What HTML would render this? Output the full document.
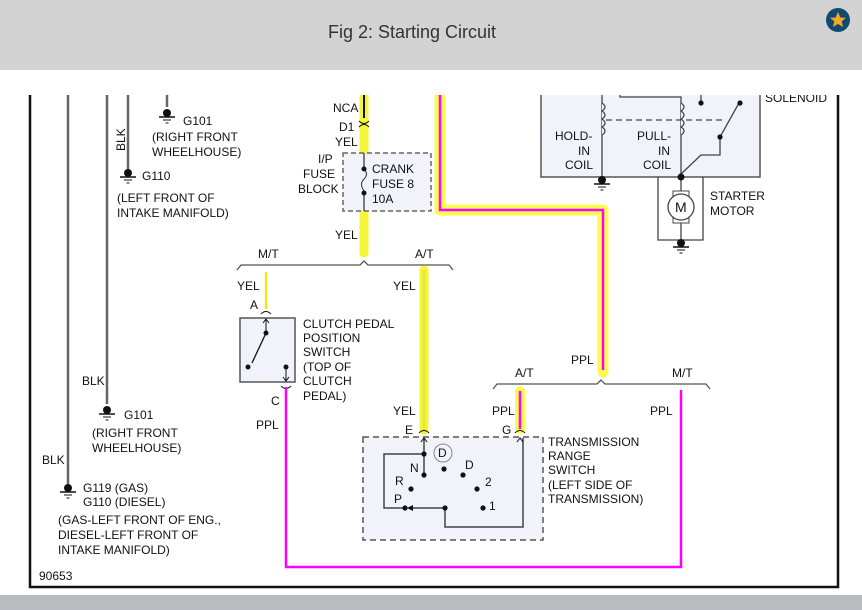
<!DOCTYPE html>
<html><head><meta charset="utf-8"><style>
html,body{margin:0;padding:0;width:862px;height:610px;overflow:hidden;background:#fff}
svg{display:block}
text{font-family:"Liberation Sans",sans-serif;font-size:12px;fill:#111}
</style></head><body>
<svg width="862" height="610" viewBox="0 0 862 610" xmlns="http://www.w3.org/2000/svg">
<defs>
<g id="gnd"><circle cx="0" cy="0" r="4" fill="#111"/><line x1="-8" y1="4" x2="8" y2="4" stroke="#111" stroke-width="1.5"/><line x1="-4" y1="7" x2="4" y2="7" stroke="#111"/><line x1="-1.5" y1="10" x2="1.5" y2="10" stroke="#111"/></g>
<clipPath id="cp"><rect x="0" y="95" width="862" height="500"/></clipPath>
</defs>
<rect x="0" y="0" width="862" height="70" fill="#d3d3d3"/>
<text x="412" y="38" text-anchor="middle" style="font-size:18px;fill:#333">Fig 2: Starting Circuit</text>
<circle cx="838" cy="20" r="12" fill="#0e4a72"/>
<polygon points="838,12 840.4,17.5 846,17.8 841.7,21.4 843.1,27 838,24 832.9,27 834.3,21.4 830,17.8 835.6,17.5" fill="#f5a623"/>
<rect x="0" y="595" width="862" height="15" fill="#b8bcc0"/>
<g clip-path="url(#cp)">
<!-- frame -->
<polyline points="30,90 30,587 838,587 838,90" fill="none" stroke="#111" stroke-width="2.5"/>
<!-- ground wires -->
<g stroke="#666" stroke-width="2.5" fill="none">
<line x1="68" y1="90" x2="68" y2="484"/>
<line x1="107" y1="90" x2="107" y2="404"/>
<line x1="128" y1="90" x2="128" y2="169"/>
<line x1="167" y1="90" x2="167" y2="107"/>
</g>
<use href="#gnd" x="68" y="488"/><use href="#gnd" x="107" y="410"/><use href="#gnd" x="128" y="173"/><use href="#gnd" x="167" y="113"/>
<text x="42" y="464">BLK</text>
<text x="83" y="492">G119 (GAS)</text><text x="83" y="506">G110 (DIESEL)</text>
<text x="58" y="524">(GAS-LEFT FRONT OF ENG.,</text><text x="58" y="539">DIESEL-LEFT FRONT OF</text><text x="58" y="554">INTAKE MANIFOLD)</text>
<text x="39" y="580">90653</text>
<text x="82" y="385">BLK</text>
<text x="124" y="419">G101</text><text x="92" y="437">(RIGHT FRONT</text><text x="92" y="452">WHEELHOUSE)</text>
<text x="125" y="151" transform="rotate(-90 125 151)">BLK</text>
<text x="142" y="180">G110</text><text x="117" y="202">(LEFT FRONT OF</text><text x="117" y="217">INTAKE MANIFOLD)</text>
<text x="183" y="125">G101</text><text x="152" y="141">(RIGHT FRONT</text><text x="152" y="156">WHEELHOUSE)</text>
<!-- main yellow feed -->
<line x1="364" y1="90" x2="364" y2="253" stroke="#f5f53a" stroke-width="9" stroke-linecap="round"/>
<line x1="364" y1="90" x2="364" y2="118" stroke="#111" stroke-width="2"/>
<path d="M359,121 q5,5 10,0 M359,127 q5,-5 10,0" stroke="#111" fill="none"/>
<text x="333" y="112">NCA</text><text x="339" y="131">D1</text><text x="335" y="146">YEL</text>
<rect x="343" y="153" width="88" height="58" fill="#f2f2fb" stroke="#666" stroke-width="1.5" stroke-dasharray="5,3"/>
<line x1="364" y1="153" x2="364" y2="167" stroke="#555" stroke-width="1.5"/><line x1="364" y1="194" x2="364" y2="211" stroke="#555" stroke-width="1.5"/>
<path d="M364,169 q5,5 0,10 q-5,5 0,12" stroke="#333" fill="none"/>
<circle cx="364" cy="169" r="2.5" fill="#111"/><circle cx="364" cy="193" r="2.5" fill="#111"/>
<text x="318" y="163">I/P</text><text x="303" y="178">FUSE</text><text x="298" y="193">BLOCK</text>
<text x="372" y="173">CRANK</text><text x="372" y="188">FUSE 8</text><text x="372" y="203">10A</text>
<text x="335" y="239">YEL</text>
<!-- bracket 1 -->
<polyline points="237,270 241,265 360,265 364,261 368,265 449,265 453,270" fill="none" stroke="#555" stroke-width="1.3"/>
<text x="258" y="258">M/T</text><text x="415" y="258">A/T</text>
<!-- clutch -->
<line x1="266" y1="272" x2="266" y2="309" stroke="#e8e820" stroke-width="2.5"/>
<text x="237" y="290">YEL</text><text x="250" y="309">A</text>
<path d="M261,314 q5,-5 10,0" stroke="#111" fill="none"/>
<rect x="240" y="318" width="55" height="64" fill="#f2f2fb" stroke="#555" stroke-width="1.5"/>
<line x1="266" y1="320" x2="266" y2="333" stroke="#111"/><path d="M263,323 l3,-4 l3,4" fill="none" stroke="#111"/>
<circle cx="266" cy="333" r="2.5" fill="#111"/><line x1="266" y1="333" x2="252" y2="363" stroke="#111" stroke-width="1.3"/><circle cx="248" cy="367" r="2.5" fill="#111"/>
<circle cx="286" cy="367" r="2.5" fill="#111"/><line x1="286" y1="367" x2="286" y2="381" stroke="#111"/><path d="M283,377 l3,4 l3,-4" fill="none" stroke="#111"/>
<path d="M281,386 q5,5 10,0" stroke="#111" fill="none"/>
<text x="303" y="328">CLUTCH PEDAL</text><text x="303" y="342">POSITION</text><text x="303" y="356">SWITCH</text><text x="303" y="371">(TOP OF</text><text x="303" y="385">CLUTCH</text><text x="303" y="400">PEDAL)</text>
<text x="271" y="405">C</text><text x="256" y="429">PPL</text>
<!-- A/T yellow -->
<line x1="424" y1="270" x2="424" y2="430" stroke="#f5f53a" stroke-width="9" stroke-linecap="round"/>
<line x1="424" y1="270" x2="424" y2="430" stroke="#e8e838" stroke-width="3"/>
<text x="393" y="290">YEL</text><text x="393" y="415">YEL</text><text x="405" y="434">E</text>
<!-- PPL big wire -->
<polyline points="440,90 440,210 603,210 603,372" fill="none" stroke="#fbfb50" stroke-width="11" stroke-linejoin="round" stroke-linecap="round"/>
<polyline points="440,90 440,210 603,210 603,370" fill="none" stroke="#ff00ff" stroke-width="2.5"/>
<text x="571" y="364">PPL</text>
<polyline points="493,389 497,384 597,384 601,380 605,384 706,384 710,389" fill="none" stroke="#555" stroke-width="1.3"/>
<text x="515" y="377">A/T</text><text x="672" y="377">M/T</text>
<line x1="520" y1="391" x2="520" y2="429" stroke="#fbfb50" stroke-width="10" stroke-linecap="round"/>
<line x1="520" y1="391" x2="520" y2="429" stroke="#ff00ff" stroke-width="2.5"/>
<text x="492" y="415">PPL</text><text x="502" y="434">G</text>
<polyline points="681,390 681,567 286,567 286,387" fill="none" stroke="#ff00ff" stroke-width="2.5"/>
<text x="650" y="415">PPL</text>
<!-- trans range switch -->
<path d="M419,433 q5,-5 10,0 M515,433 q5,-5 10,0" stroke="#111" fill="none"/>
<rect x="363" y="437" width="180" height="103" fill="#f2f2fb" stroke="#555" stroke-width="1.5" stroke-dasharray="6,4"/>
<g stroke="#444" stroke-width="1.5" fill="none">
<polyline points="424,438 424,454 384,454 384,508 405,508"/>
<line x1="424" y1="454" x2="424" y2="475"/>
<polyline points="445,508 413,508"/>
<polyline points="445,508 445,527 523,527 523,438"/>
</g>
<path d="M421,442 l3,-4 l3,4 M517,442 l3,-4 l3,4" stroke="#111" fill="none"/>
<polygon points="407,508 413,505 413,511" fill="#111"/>
<circle cx="443" cy="453" r="9" fill="none" stroke="#888"/><text x="438" y="457">D</text>
<g fill="#111"><circle cx="424" cy="454" r="2.6"/><circle cx="424" cy="475" r="2.6"/><circle cx="444" cy="469" r="2.6"/><circle cx="463" cy="475" r="2.6"/><circle cx="411" cy="489" r="2.6"/><circle cx="477" cy="489" r="2.6"/><circle cx="405" cy="508" r="2.6"/><circle cx="445" cy="508" r="2.6"/><circle cx="483" cy="508" r="2.6"/></g>
<text x="410" y="472">N</text><text x="465" y="469">D</text><text x="395" y="485">R</text><text x="485" y="486">2</text><text x="394" y="503">P</text><text x="489" y="510">1</text>
<text x="548" y="446">TRANSMISSION</text><text x="548" y="460">RANGE</text><text x="548" y="474">SWITCH</text><text x="548" y="489">(LEFT SIDE OF</text><text x="548" y="503">TRANSMISSION)</text>
<!-- solenoid -->
<rect x="541" y="80" width="219" height="97" fill="#f2f2fb" stroke="#555" stroke-width="1.5"/>
<g stroke="#444" stroke-width="1.3" fill="none">
<line x1="602" y1="80" x2="602" y2="177"/>
<polyline points="620,80 620,97 681,97 681,177"/>
<line x1="701" y1="80" x2="701" y2="102"/>
<line x1="606" y1="120" x2="726" y2="120" stroke-dasharray="6,4"/>
<polyline points="681,174 701,155 720,155 720,137 739,103"/>
<polyline points="658,177 658,240 703,240 703,177"/>
<line x1="681" y1="177" x2="681" y2="240"/>
</g>
<path d="M602,103 q6,4 0,8 q6,4 0,8 q6,4 0,8 q6,4 0,8 M681,103 q6,4 0,8 q6,4 0,8 q6,4 0,8 q6,4 0,8" stroke="#444" fill="#f2f2fb" stroke-width="1.3"/>
<g fill="#111"><circle cx="701" cy="103" r="2.6"/><circle cx="740" cy="103" r="2.6"/><circle cx="720" cy="137" r="2.6"/><circle cx="681" cy="177" r="3.5"/></g>
<rect x="673" y="191" width="16" height="32" fill="#fff" stroke="#444"/>
<circle cx="681" cy="207" r="13" fill="#fff" stroke="#444" stroke-width="1.3"/>
<text x="675" y="212" style="font-size:14px">M</text>
<use href="#gnd" x="602" y="180"/><use href="#gnd" x="681" y="243"/>
<text x="555" y="140" >HOLD-</text><text x="578" y="155">IN</text><text x="565" y="169">COIL</text>
<text x="637" y="140">PULL-</text><text x="658" y="155">IN</text><text x="643" y="169">COIL</text>
<text x="710" y="200">STARTER</text><text x="710" y="215">MOTOR</text>
<text x="765" y="102">SOLENOID</text>
</g>
</svg>
</body></html>
